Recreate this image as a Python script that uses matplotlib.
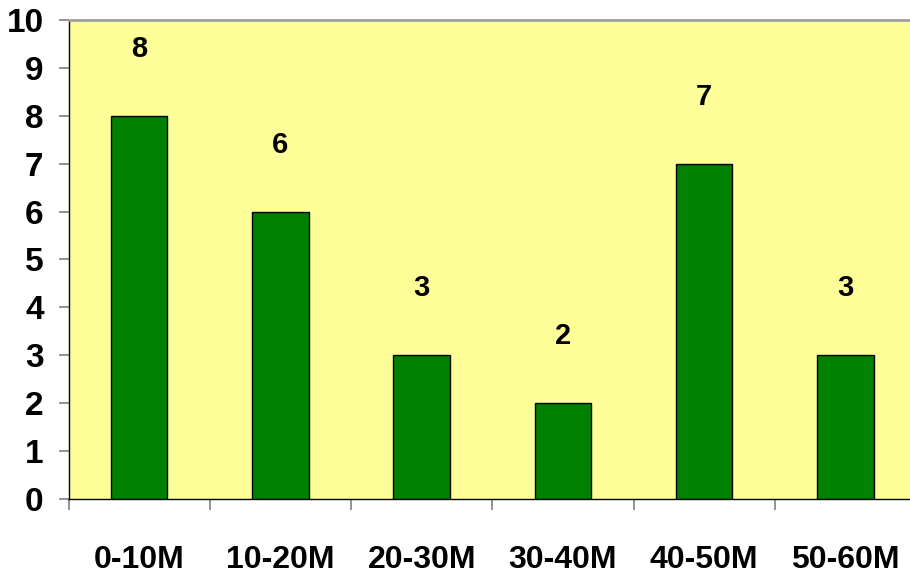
import numpy as np
import matplotlib.pyplot as plt

# data
categories = ['0-10M', '10-20M', '20-30M', '30-40M', '40-50M', '50-60M']
counts = [8, 6, 3, 2, 7, 3]
y_ticks = list(range(0, 11))

plt.rcParams['font.family'] = ['Liberation Sans', 'DejaVu Sans']
plt.rcParams['font.weight'] = 'bold'

fig = plt.figure(figsize=(9.1, 5.76), dpi=100)
ax = fig.add_axes([0.0753, 0.1337, 0.9313, 0.8316])
ax.set_facecolor('#FFFF99')

x = np.arange(len(categories))
ax.bar(x, counts, width=0.4, color='#008000', edgecolor='black', linewidth=1, zorder=3)

# value labels above bars
for xi, v in zip(x, counts):
    ax.text(xi, v + 1.4, str(v), ha='center', va='center', fontsize=21, fontweight='bold')

ax.set_xlim(-0.5, len(categories) - 0.5)
ax.set_ylim(0, 10)
ax.set_yticks(y_ticks)
ax.tick_params(axis='y', length=7, width=1.2, color='#808080', pad=11, labelsize=24)

# ticks at category boundaries, labels at centres
ax.set_xticks(np.arange(len(categories) + 1) - 0.5)
ax.set_xticklabels([])
ax.set_xticks(x, minor=True)
ax.set_xticklabels(categories, minor=True, fontsize=23, fontweight='bold')
ax.tick_params(axis='x', which='major', length=8, width=1.2, color='#808080')
ax.tick_params(axis='x', which='minor', length=0, pad=33)
for lbl in ax.get_yticklabels():
    lbl.set_fontweight('bold')

ax.spines['top'].set_color('#A0A0A0')
ax.spines['top'].set_linewidth(2)
ax.spines['right'].set_visible(False)
ax.spines['left'].set_color('black')
ax.spines['bottom'].set_color('black')
ax.spines['left'].set_linewidth(1)
ax.spines['bottom'].set_linewidth(1)

fig.savefig('out.png', dpi=100)
